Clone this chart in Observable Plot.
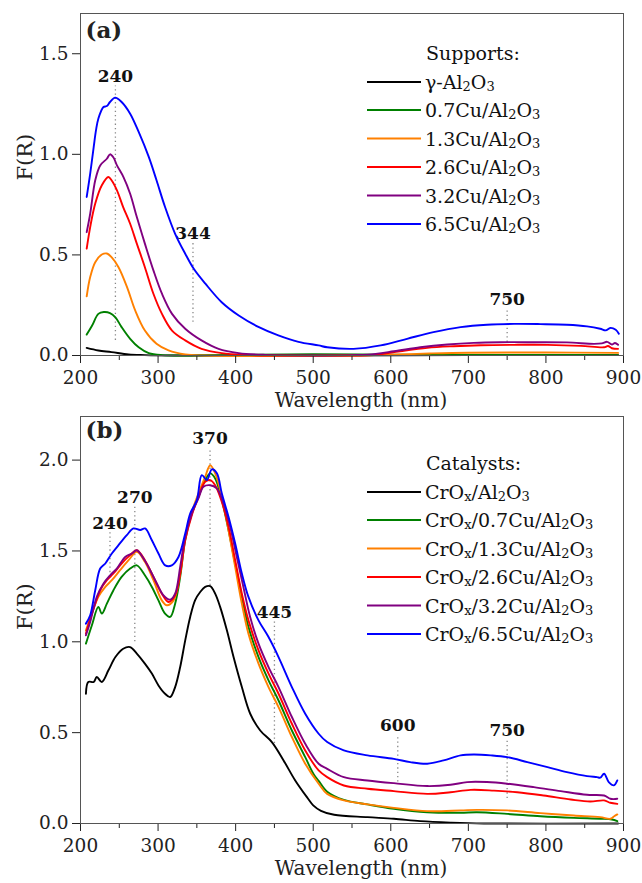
<!DOCTYPE html>
<html><head><meta charset="utf-8">
<script src="https://cdn.jsdelivr.net/npm/d3@7"></script>
<script src="https://cdn.jsdelivr.net/npm/@observablehq/plot@0.6"></script>
<style>
body{margin:0;background:#fff}
#chart{width:642px}
#chart svg{display:block}
</style>
</head><body><div id="chart"></div>
<script>
// ---------- tick values ----------
const wavelengthTicks = [200, 300, 400, 500, 600, 700, 800, 900];
const wavelengthMinor = [250, 350, 450, 550, 650, 750, 850];
const fTicksA = [0, 0.5, 1.0, 1.5];
const fTicksB = [0, 0.5, 1.0, 1.5, 2.0];

// ---------- legend names & colours ----------
const supportNames = ["γ-Al_2O_3", "0.7Cu/Al_2O_3", "1.3Cu/Al_2O_3", "2.6Cu/Al_2O_3", "3.2Cu/Al_2O_3", "6.5Cu/Al_2O_3"];
const catalystNames = ["CrO_x/Al_2O_3", "CrO_x/0.7Cu/Al_2O_3", "CrO_x/1.3Cu/Al_2O_3", "CrO_x/2.6Cu/Al_2O_3", "CrO_x/3.2Cu/Al_2O_3", "CrO_x/6.5Cu/Al_2O_3"];
const seriesColors = ["#000000", "#008000", "#ff8000", "#ff0000", "#800080", "#0000ff"];

// ---------- panel (a): supports, [wavelength nm, F(R)] ----------
const supAl2O3 = [[208,0.038],[223,0.025],[240,0.017],[262,0.005],[283,0.002],[320,0.0],[500,0.0],[700,0.002],[893,0.002]];
const sup07Cu = [[208,0.104],[215,0.149],[223,0.207],[230,0.216],[238,0.211],[245,0.19],[253,0.141],[264,0.083],[275,0.041],[288,0.012],[305,0.002],[400,0.003],[500,0.006],[600,0.004],[700,0.003],[800,0.003],[893,0.002]];
const sup13Cu = [[208,0.294],[212.5,0.39],[219,0.464],[227.5,0.502],[234,0.507],[240,0.489],[249,0.439],[260,0.34],[270.5,0.224],[283,0.124],[298,0.058],[313.5,0.025],[335,0.005],[360,0.0],[550,0.0],[600,0.004],[650,0.01],[700,0.014],[800,0.015],[893,0.013]];
const sup26Cu = [[208,0.531],[212.5,0.638],[219,0.755],[227.5,0.846],[236,0.887],[240,0.871],[247,0.821],[255,0.738],[264,0.655],[272.6,0.556],[283,0.439],[294,0.307],[305,0.207],[318,0.124],[335,0.075],[356,0.033],[382,0.012],[412,0.003],[450,0],[550,0],[578,0.002],[612,0.021],[647,0.038],[681,0.046],[716,0.051],[759,0.053],[802,0.053],[845,0.048],[875,0.041],[880,0.047],[885,0.036],[893,0.033]];
const sup32Cu = [[208,0.613],[212.5,0.705],[219,0.871],[225.4,0.945],[234,0.978],[238,1.0],[242.5,0.984],[247,0.945],[255.4,0.887],[264,0.804],[272.6,0.688],[283,0.556],[294,0.423],[305,0.307],[318,0.207],[335,0.133],[356,0.075],[378,0.033],[404,0.012],[438,0.003],[500,0],[550,0.002],[570,0.004],[604,0.021],[638,0.041],[673,0.055],[707,0.063],[741,0.066],[785,0.066],[827,0.065],[862,0.058],[872,0.06],[879,0.068],[885,0.055],[889,0.062],[893,0.053]];
const sup65Cu = [[208,0.788],[212.5,0.904],[217,1.036],[220,1.12],[223,1.177],[229.6,1.235],[234,1.24],[238,1.26],[244.7,1.282],[253,1.26],[264,1.202],[275,1.111],[288,0.987],[298,0.871],[309,0.738],[322,0.605],[335,0.506],[346,0.431],[361,0.357],[382,0.265],[404,0.199],[430,0.141],[455,0.1],[481,0.068],[507,0.05],[518,0.041],[552,0.033],[587,0.05],[621,0.083],[655,0.116],[690,0.141],[724,0.153],[759,0.157],[793,0.156],[827,0.153],[853,0.145],[870,0.133],[877,0.125],[883,0.137],[890,0.128],[894,0.108]];

// ---------- panel (b): catalysts, [wavelength nm, F(R)] ----------
const catAl2O3 = [[207,0.714],[210,0.779],[217,0.779],[221,0.806],[227.5,0.779],[236,0.843],[245,0.916],[255,0.962],[264,0.971],[272.6,0.935],[283,0.88],[292,0.825],[300.5,0.76],[309,0.714],[315.6,0.696],[322,0.751],[328.5,0.861],[335,1.008],[341.4,1.137],[347.8,1.229],[354.3,1.274],[360.7,1.302],[367.2,1.306],[373.6,1.265],[380,1.192],[388.7,1.063],[397.3,0.916],[408,0.751],[418.8,0.604],[431.7,0.512],[446.7,0.448],[461.8,0.347],[476.8,0.237],[491.9,0.145],[500,0.1],[510,0.07],[527,0.048],[570,0.035],[604,0.026],[638,0.013],[677,0.005],[720,0.0],[893,0.0]];
const cat07Cu = [[207,0.99],[214.7,1.091],[223,1.192],[227.5,1.155],[234,1.21],[242.5,1.284],[253,1.357],[264,1.403],[272.6,1.421],[283,1.366],[292,1.302],[300.5,1.228],[309,1.155],[315.6,1.137],[322,1.21],[328.5,1.357],[335,1.56],[343.5,1.706],[352,1.798],[360.7,1.89],[367.2,1.927],[373.6,1.899],[382.2,1.78],[390.8,1.615],[399.4,1.43],[408,1.247],[416.5,1.081],[429.5,0.916],[442.4,0.788],[455.3,0.677],[472.5,0.512],[489.7,0.365],[500.8,0.27],[507,0.235],[518,0.175],[539.5,0.13],[570,0.105],[604,0.081],[647,0.062],[690,0.059],[711,0.062],[750,0.053],[793,0.04],[836,0.031],[870,0.026],[885,0.022],[892,0.013]];
const cat13Cu = [[207,1.063],[214.7,1.155],[223,1.247],[232,1.302],[240.4,1.339],[251,1.394],[262,1.449],[272.6,1.495],[283,1.44],[294,1.339],[304.8,1.228],[311.3,1.201],[320,1.228],[328.5,1.376],[335,1.578],[343.5,1.715],[352,1.816],[360.7,1.908],[367.2,1.972],[373.6,1.927],[382.2,1.799],[390.8,1.615],[399.4,1.412],[408,1.21],[416.5,1.045],[429.5,0.88],[442.4,0.751],[455.3,0.641],[472.5,0.476],[489.7,0.329],[507,0.219],[518,0.163],[539.5,0.127],[570,0.105],[604,0.086],[647,0.068],[690,0.072],[711,0.075],[750,0.072],[793,0.057],[836,0.044],[870,0.035],[883,0.026],[888,0.04],[892,0.05]];
const cat26Cu = [[207,1.045],[212.5,1.128],[219,1.21],[225.4,1.284],[234,1.339],[242.5,1.376],[253,1.431],[264,1.477],[272.6,1.504],[283,1.449],[294,1.357],[304.8,1.265],[313.4,1.219],[322,1.256],[328.5,1.376],[335,1.56],[343.5,1.697],[352,1.798],[360.7,1.881],[367.2,1.89],[373.6,1.862],[382.2,1.77],[390.8,1.633],[399.4,1.449],[408,1.265],[416.5,1.118],[429.5,0.953],[442.4,0.825],[455.3,0.714],[472.5,0.549],[489.7,0.402],[507,0.292],[518,0.255],[539.5,0.209],[570,0.191],[604,0.178],[647,0.163],[677,0.172],[703,0.185],[733,0.181],[763,0.172],[797,0.154],[832,0.132],[857,0.121],[875,0.127],[883,0.114],[892,0.108]];
const cat32Cu = [[207,1.036],[212.5,1.109],[221,1.247],[229.7,1.321],[238.2,1.366],[246.8,1.403],[257.6,1.467],[266.2,1.486],[272.6,1.504],[281.2,1.458],[289.8,1.394],[298.4,1.321],[307,1.256],[315.6,1.232],[322,1.265],[328.5,1.412],[335,1.578],[343.5,1.706],[352,1.789],[358.5,1.853],[367.1,1.862],[375.7,1.844],[384.3,1.761],[392.9,1.633],[401.5,1.467],[410,1.302],[418.7,1.137],[429.5,0.99],[442.4,0.861],[455.3,0.751],[472.5,0.586],[489.7,0.439],[507,0.329],[518,0.301],[539.5,0.255],[570,0.237],[604,0.222],[647,0.206],[677,0.213],[698.5,0.228],[724,0.228],[750,0.219],[784.5,0.2],[819,0.178],[853,0.158],[875,0.154],[883,0.136],[892,0.136]];
const cat65Cu = [[207,1.1],[212.5,1.146],[219,1.284],[225.4,1.403],[232,1.431],[240.4,1.486],[249,1.532],[259.7,1.587],[268.3,1.624],[277,1.615],[283.3,1.624],[292,1.559],[300.5,1.486],[309.2,1.421],[317.7,1.421],[326.3,1.467],[335,1.596],[341.4,1.706],[350,1.78],[356.4,1.917],[362.9,1.89],[369.3,1.949],[375.8,1.927],[382.2,1.816],[390.8,1.688],[399.4,1.541],[408,1.376],[416.5,1.247],[429.5,1.118],[442.4,1.026],[455.3,0.916],[472.5,0.751],[489.7,0.604],[507,0.494],[518,0.448],[539.5,0.402],[570,0.375],[604,0.356],[625,0.338],[647,0.329],[668,0.347],[690,0.375],[707,0.38],[729,0.375],[750,0.365],[776,0.338],[802,0.31],[827,0.283],[853,0.261],[866,0.255],[870,0.252],[875,0.274],[881,0.228],[887.6,0.21],[892,0.237]];

// ---------- peak annotations ----------
const annA_label = ["240", "344", "750"];
const annA_x = [245, 345, 750];
const annA_y1 = [0.075, 0.165, 0.065];
const annA_y2 = [1.34, 0.557, 0.23];
const annB_label = ["370", "270", "240", "445", "600", "750"];
const annB_x = [367, 270, 238, 450, 609, 750];
const annB_y1 = [1.31, 1.0, 1.357, 0.44, 0.228, 0.138];
const annB_y2 = [2.066, 1.74, 1.6, 1.109, 0.485, 0.457];

const FONT = "'DejaVu Serif', serif";

function addRich(textSel, str) {
  let shifted = false;
  str.split(/(_.)/).filter(Boolean).forEach(p => {
    const sub = p[0] === "_";
    const t = textSel.append("tspan").text(sub ? p.slice(1) : p);
    if (sub) { t.attr("font-size", 13); if (!shifted) { t.attr("dy", 2); shifted = true; } }
    else if (shifted) { t.attr("dy", -2); shifted = false; }
  });
}

function panel(o) {
  const ann = o.annLabel.map((l, i) => ({label: l, x: o.annX[i], y1: o.annY1[i], y2: o.annY2[i]}));
  const marks = [
    Plot.ruleX(ann, {x: "x", y1: "y1", y2: "y2", stroke: "#888", strokeWidth: 1.3, strokeDasharray: "1.3,3"}),
    Plot.text(ann, {x: "x", y: "y2", text: "label", lineAnchor: "bottom", dy: -4, fontWeight: "bold", fontSize: 17, fill: "#111"}),
    ...o.series.map((s, i) => Plot.line(s, {x: d => d[0], y: d => d[1], stroke: seriesColors[i], strokeWidth: 1.9, curve: "catmull-rom"})),
    Plot.axisX({ticks: wavelengthTicks, tickSize: 8, tickPadding: 7, label: null, fontSize: 18.5}),
    Plot.axisX({ticks: wavelengthMinor, tickSize: 5, tickFormat: () => "", label: null}),
    Plot.axisY({ticks: o.yTicks, tickSize: 8, tickPadding: 4, tickFormat: d3.format(".1f"), label: null, fontSize: 18.5}),
    Plot.frame({stroke: "#555"}),
    Plot.text([o.letter], {frameAnchor: "top-left", textAnchor: "start", lineAnchor: "top", dx: 5, dy: o.letterDy, fontWeight: "bold", fontSize: 23}),
    Plot.text(["Wavelength (nm)"], {frameAnchor: "bottom", dy: o.xLabelDy, dx: 9, fontSize: 20}),
    Plot.text(["F(R)"], {frameAnchor: "left", dx: -55, dy: o.yLabelDy, rotate: -90, fontSize: 21})
  ];
  const svg = Plot.plot({
    width: 642, height: o.height,
    marginTop: o.marginTop, marginBottom: o.marginBottom, marginLeft: 80, marginRight: 19,
    x: {domain: [200, 900]},
    y: {domain: [0, o.yMax]},
    style: {fontFamily: FONT, fontSize: "18px", color: "#222", background: "#fff"},
    marks
  });
  // legend
  const g = d3.select(svg).append("g").attr("font-family", FONT).attr("font-size", 19)
    .attr("fill", "#111").attr("text-anchor", "start")
    .attr("transform", `translate(0,${o.legendShift})`);
  g.append("text").attr("x", 426).attr("y", 53 + 7).text(o.legendTitle);
  const rows = [82, 110, 138.5, 167, 195.5, 224];
  o.names.forEach((n, i) => {
    g.append("line").attr("x1", 367).attr("x2", 421).attr("y1", rows[i]).attr("y2", rows[i])
      .attr("stroke", seriesColors[i]).attr("stroke-width", 2);
    addRich(g.append("text").attr("x", 425).attr("y", rows[i] + 7), n);
  });
  return svg;
}

const chart = document.getElementById("chart");
chart.appendChild(panel({
  series: [supAl2O3, sup07Cu, sup13Cu, sup26Cu, sup32Cu, sup65Cu],
  names: supportNames, legendTitle: "Supports:",
  yMax: 1.7, yTicks: fTicksA,
  annLabel: annA_label, annX: annA_x, annY1: annA_y1, annY2: annA_y2,
  letter: "(a)", letterDy: 8,
  height: 414, marginTop: 13, marginBottom: 59,
  xLabelDy: 51, yLabelDy: -4, legendShift: 0
}));
chart.appendChild(panel({
  series: [catAl2O3, cat07Cu, cat13Cu, cat26Cu, cat32Cu, cat65Cu],
  names: catalystNames, legendTitle: "Catalysts:",
  yMax: 2.24, yTicks: fTicksB,
  annLabel: annB_label, annX: annB_x, annY1: annB_y1, annY2: annB_y2,
  letter: "(b)", letterDy: 5,
  height: 469, marginTop: 2, marginBottom: 60,
  xLabelDy: 51, yLabelDy: 10, legendShift: -4
}));
</script></body></html>
